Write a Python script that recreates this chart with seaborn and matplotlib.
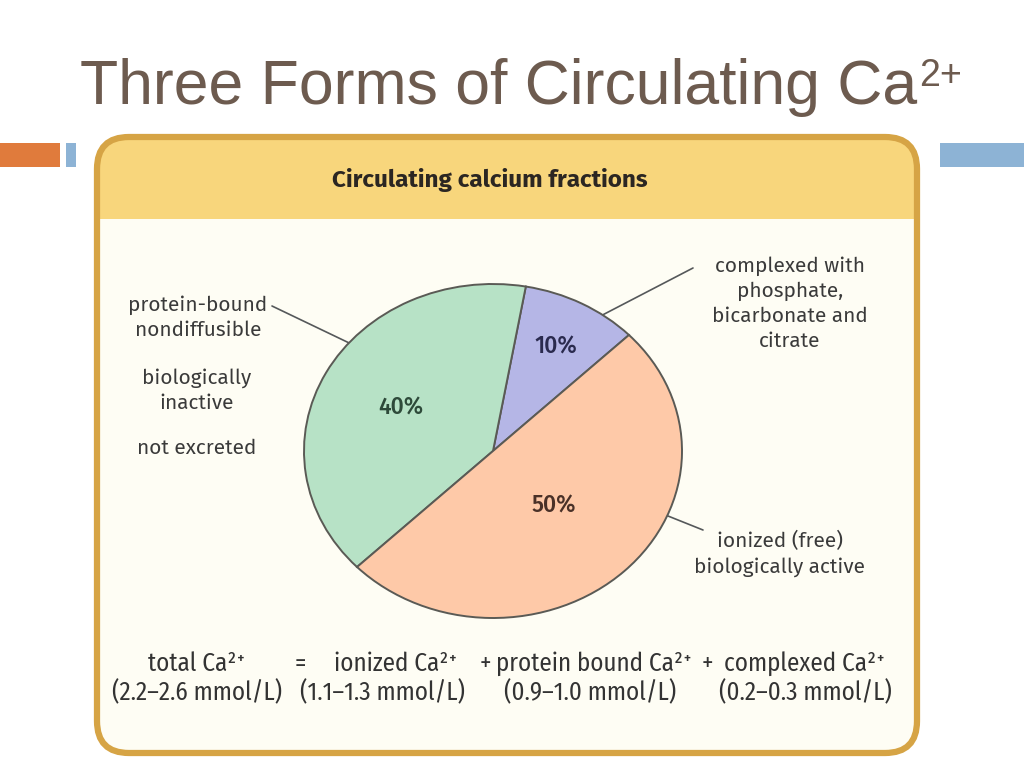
import matplotlib
matplotlib.use("Agg")
import matplotlib.pyplot as plt
import seaborn as sns
import numpy as np
from matplotlib.patches import FancyBboxPatch, Rectangle
from matplotlib import font_manager

# ---------------- data ----------------
fractions = [10, 40, 50]
pct_labels = ["10%", "40%", "50%"]
slice_names = ["complexed", "protein-bound", "ionized"]
slice_colors = ["#B5B6E6", "#B7E2C6", "#FEC9A8"]
pct_colors = ["#2A2A4E", "#2E4A3A", "#4A3128"]

title_main = "Three Forms of Circulating Ca"
title_sup = "2+"
panel_title = "Circulating calcium fractions"
left_labels = ["protein-bound\nnondiffusible", "biologically\ninactive", "not excreted"]
complexed_label = "complexed with\nphosphate,\nbicarbonate and\ncitrate"
ionized_label = "ionized (free)\nbiologically active"
eq_top = ["total Ca\u00b2\u207a", "=", "ionized Ca\u00b2\u207a", "+", "protein bound Ca\u00b2\u207a", "+", "complexed Ca\u00b2\u207a"]
eq_bottom = ["(2.2\u20132.6 mmol/L)", "(1.1\u20131.3 mmol/L)", "(0.9\u20131.0 mmol/L)", "(0.2\u20130.3 mmol/L)"]

sns.set_theme(style="white")
avail = {f.name for f in font_manager.fontManager.ttflist}


def pick(prefs):
    for p in prefs:
        if p in avail:
            return p
    return "DejaVu Sans"


body = pick(["Fira Sans", "Open Sans"])
cond = pick(["Fira Sans Condensed", "Roboto Condensed", "Asap Condensed", "Archivo Narrow", "Open Sans"])
titlef = pick(["Liberation Sans", "Arimo"])
plt.rcParams['font.family'] = [body, 'DejaVu Sans']

W, H = 1024, 768
fig = plt.figure(figsize=(W / 100, H / 100), dpi=100)
fig.patch.set_facecolor("white")

ov = fig.add_axes([0, 0, 1, 1])
ov.set_xlim(0, W)
ov.set_ylim(H, 0)
ov.axis("off")

# decorative bars
ov.add_patch(Rectangle((0, 143), 60, 24, facecolor="#E07B3C", edgecolor="none"))
ov.add_patch(Rectangle((66, 143), 10, 24, facecolor="#8DB3D5", edgecolor="none"))
ov.add_patch(Rectangle((940, 143), 84, 24, facecolor="#8DB3D5", edgecolor="none"))

# panel
bx, by, bw, bh, rad = 97, 137, 820, 616, 32
box = FancyBboxPatch((bx, by), bw, bh, boxstyle=f"round,pad=0,rounding_size={rad}",
                     facecolor="#FEFDF4", edgecolor="none", zorder=1)
ov.add_patch(box)
hdr = Rectangle((bx, by), bw, 82, facecolor="#F8D67C", edgecolor="none", zorder=2)
ov.add_patch(hdr)
hdr.set_clip_path(box)
border = FancyBboxPatch((bx, by), bw, bh, boxstyle=f"round,pad=0,rounding_size={rad}",
                        facecolor="none", edgecolor="#D6A445", linewidth=4.5, zorder=3)
ov.add_patch(border)

# slide title
t = fig.text(80 / W, 1 - 104 / H, title_main, fontsize=45, color="#6D5B4F",
             family=[titlef, 'DejaVu Sans'], va="baseline", ha="left")
fig.canvas.draw()
ext = t.get_window_extent()
fig.text(ext.x1 / W + 0.002, 1 - 86 / H, title_sup, fontsize=27, color="#6D5B4F",
         family=[titlef, 'DejaVu Sans'], va="baseline", ha="left")

# panel title
ov.text(490, 180, panel_title, fontsize=17.5, fontweight="bold", color="#2B2622",
        ha="center", va="center", zorder=5)

# side labels
lab_kw = dict(fontsize=15, color="#3A3A3A", ha="center", va="center", zorder=5, linespacing=1.35)
ov.text(198, 318, left_labels[0], **lab_kw)
ov.text(197, 391, left_labels[1], **lab_kw)
ov.text(197, 448, left_labels[2], **lab_kw)
ov.text(790, 304, complexed_label, **lab_kw)
ov.text(780, 554, ionized_label, **lab_kw)

# leader lines
ln_kw = dict(color="#55585A", linewidth=1.2, zorder=6)
ov.plot([272, 368], [306, 352], **ln_kw)
ov.plot([693, 589], [268, 322], **ln_kw)
ov.plot([648, 703], [508, 530], **ln_kw)

# pie
cx, cy, rx, ry = 493, 451, 189, 167
pax = fig.add_axes([(cx - rx) / W, 1 - (cy + ry) / H, 2 * rx / W, 2 * ry / H])
wedges, _ = pax.pie(fractions, colors=slice_colors, startangle=44, counterclock=True,
                    wedgeprops=dict(edgecolor="#5A5A55", linewidth=1.4))
pax.set_aspect("auto")
pax.set_xlim(-1, 1)
pax.set_ylim(-1, 1)
pax.axis("off")
pax.set_zorder(4)
pax.patch.set_alpha(0)
for w in wedges:
    w.set_clip_on(False)

pct_r = [0.71, 0.55, 0.46]
for w, lab, r, c in zip(wedges, pct_labels, pct_r, pct_colors):
    mid = np.deg2rad((w.theta1 + w.theta2) / 2)
    pax.text(r * np.cos(mid), r * np.sin(mid), lab, fontsize=16.5, color=c,
             fontweight="medium", ha="center", va="center")

# equation rows: size fitted so the range text spans ~170 px like the reference
probe = ov.text(0, 0, eq_bottom[0], fontsize=20, family=[cond, 'DejaVu Sans'])
fig.canvas.draw()
pw = probe.get_window_extent().width
probe.remove()
eq_size = 20 * 170.0 / pw

eq_kw = dict(fontsize=eq_size, color="#333333", ha="center", va="center",
             family=[cond, 'DejaVu Sans'], zorder=5)
xs_top = [197, 300, 396, 485, 594, 707, 805]
for x, s in zip(xs_top, eq_top):
    ov.text(x, 664, s, **eq_kw)
xs_bot = [197, 383, 590, 805]
for x, s in zip(xs_bot, eq_bottom):
    ov.text(x, 693, s, **eq_kw)

fig.savefig("out.png", dpi=100, facecolor="white")
